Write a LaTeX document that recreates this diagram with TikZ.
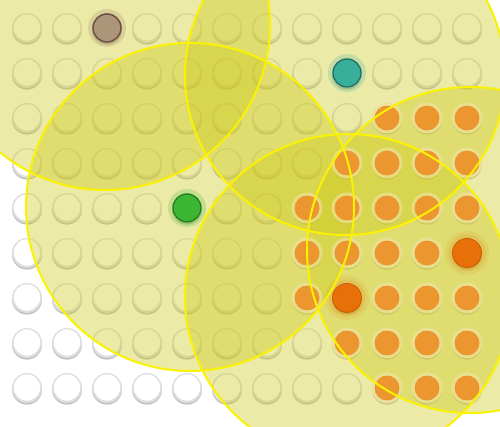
\documentclass[tikz,border=0pt]{standalone}
\definecolor{zone}{RGB}{205,200,25}
\definecolor{zoneline}{RGB}{250,242,0}
\definecolor{ringc}{RGB}{222,222,222}
\definecolor{ringshadow}{RGB}{192,192,192}
\definecolor{ledorange}{RGB}{236,150,48}
\definecolor{ledhalo}{RGB}{245,232,170}
\definecolor{hotorange}{RGB}{232,112,8}
\definecolor{hotedge}{RGB}{205,90,0}
\definecolor{tealfill}{RGB}{55,175,155}
\definecolor{tealedge}{RGB}{35,110,100}
\definecolor{brownfill}{RGB}{172,150,122}
\definecolor{brownedge}{RGB}{112,78,70}
\definecolor{greenfill}{RGB}{60,182,50}
\definecolor{greenedge}{RGB}{35,125,40}
\tikzset{
  zonefill/.style={fill=zone, fill opacity=0.38},
  zoneedge/.style={draw=zoneline, line width=2pt},
}
\begin{document}
\begin{tikzpicture}[x=1pt,y=-1pt]
\useasboundingbox (0,0) rectangle (500,427);
\fill[white] (0,0) rectangle (500,427);
% grid of empty LEDs
\foreach \c in {0,...,11} {
  \foreach \r in {0,...,8} {
    \pgfmathsetmacro\px{27+40*\c}
    \pgfmathsetmacro\py{28+45*\r}
    \fill[ringshadow] (\px,\py+1.6) circle (15pt);
    \fill[ringc] (\px,\py) circle (15pt);
    \fill[white] (\px,\py-0.5) circle (13.2pt);
  }
}
% coverage zones (fills)
\coordinate (z1) at (105,25);
\coordinate (z2) at (190,207);
\coordinate (z4) at (345,75);
\coordinate (z5) at (348,297);
\coordinate (z6) at (470,250);
\fill[zonefill] (z1) circle (165pt);
\fill[zonefill] (z2) circle (164pt);
\fill[zonefill] (z4) circle (160pt);
\fill[zonefill] (z5) circle (163pt);
\fill[zonefill] (z6) circle (163pt);
% orange LEDs
\foreach \c/\r in {10/3,11/3,12/3, 9/4,10/4,11/4,12/4, 8/5,9/5,10/5,11/5,12/5,
                   8/6,9/6,10/6,11/6, 8/7,10/7,11/7,12/7, 9/8,10/8,11/8,12/8,
                   10/9,11/9,12/9} {
  \pgfmathsetmacro\px{27+40*(\c-1)}
  \pgfmathsetmacro\py{28+45*(\r-1)}
  \fill[ledhalo, opacity=0.6] (\px,\py) circle (15.5pt);
  \fill[ledorange] (\px,\py) circle (12.5pt);
}
% hot orange LEDs
\foreach \px/\py in {467/253, 347/298} {
  \fill[hotorange, opacity=0.10] (\px,\py) circle (22pt);
  \fill[hotorange, opacity=0.14] (\px,\py) circle (18.5pt);
  \fill[hotorange, draw=hotedge, line width=0.8pt] (\px,\py) circle (14.5pt);
}
% special LEDs
\coordinate (brown) at (107,28);
\coordinate (teal) at (347,73);
\coordinate (green) at (187,208);
\fill[brownedge, opacity=0.15] (brown) circle (19pt);
\fill[brownfill, draw=brownedge, line width=1.5pt] (brown) circle (14pt);
\fill[tealfill, opacity=0.22] (teal) circle (19pt);
\fill[tealfill, draw=tealedge, line width=1.3pt] (teal) circle (14pt);
\fill[greenfill, opacity=0.22] (green) circle (19pt);
\fill[greenfill, draw=greenedge, line width=1.3pt] (green) circle (14pt);
% zone outlines
\draw[zoneedge] (z1) circle (165pt);
\draw[zoneedge] (z2) circle (164pt);
\draw[zoneedge] (z4) circle (160pt);
\draw[zoneedge] (z5) circle (163pt);
\draw[zoneedge] (z6) circle (163pt);
\end{tikzpicture}
\end{document}
